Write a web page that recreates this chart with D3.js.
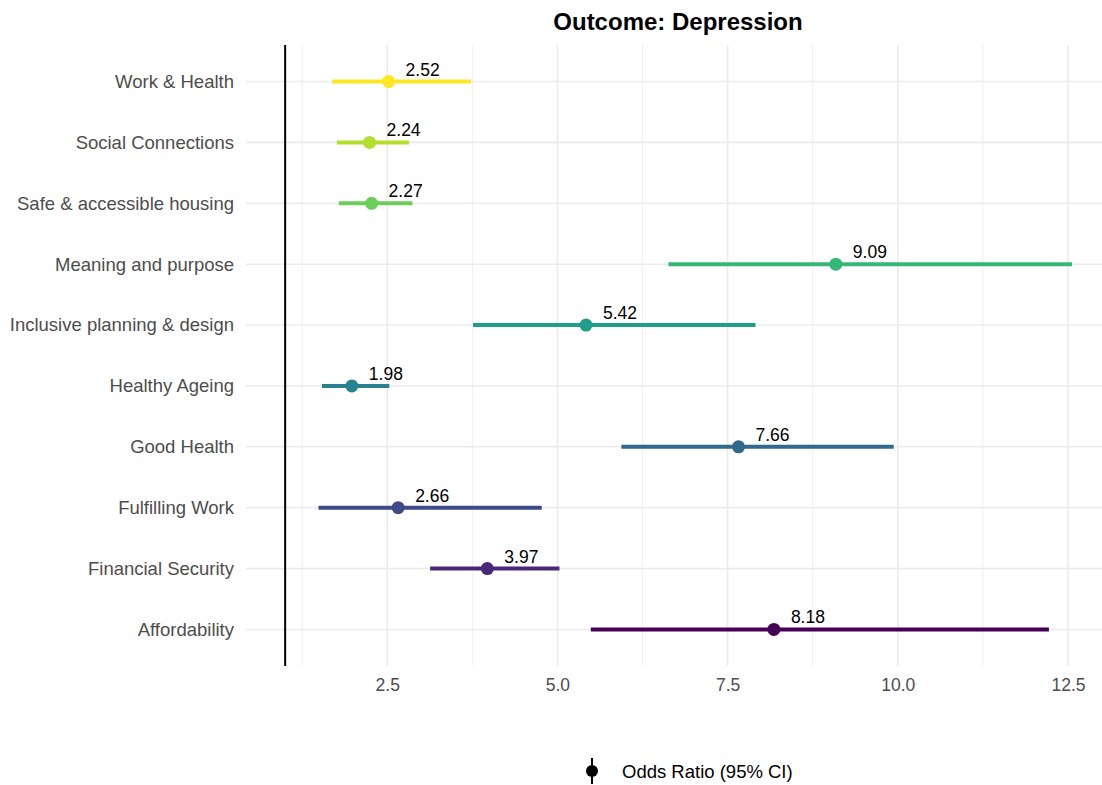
<!DOCTYPE html>
<html>
<head>
<meta charset="utf-8">
<script src="https://cdn.jsdelivr.net/npm/d3@7"></script>
<style>
  body { margin: 0; background: #fff; }
  text { font-family: "Liberation Sans", Arial, Helvetica, sans-serif; }
</style>
</head>
<body>
<script>
// data, bottom row first
var domains = ["Affordability", "Financial Security", "Fulfilling Work", "Good Health", "Healthy Ageing",
  "Inclusive planning & design", "Meaning and purpose", "Safe & accessible housing", "Social Connections", "Work & Health"];
var oddsRatio = [8.18, 3.97, 2.66, 7.66, 1.98, 5.42, 9.09, 2.27, 2.24, 2.52];
var ciLow = [5.49, 3.13, 1.49, 5.94, 1.54, 3.76, 6.63, 1.79, 1.76, 1.69];
var ciHigh = [12.22, 5.03, 4.77, 9.94, 2.53, 7.91, 12.56, 2.87, 2.82, 3.73];
var xTicks = [2.5, 5.0, 7.5, 10.0, 12.5];
var xMinor = [1.25, 3.75, 6.25, 8.75, 11.25];
var colors = ["#440154", "#482878", "#3E4A89", "#31688E", "#26828E", "#1F9E89", "#35B779", "#6DCD59", "#B4DE2C", "#FDE725"];

var w = 1102, h = 785;
var panelLeft = 246, panelRight = 1102, panelTop = 45, panelBottom = 666;

var svg = d3.select("body").append("svg")
  .attr("width", w)
  .attr("height", h);

var x = d3.scaleLinear().domain([0.425, 13.0]).range([panelLeft, panelRight]);
var y = d3.scalePoint().domain(domains).range([panelBottom, panelTop]).padding(0.6);

// grid
svg.append("g").selectAll("line").data(xMinor).enter().append("line")
  .attr("x1", d => x(d)).attr("x2", d => x(d))
  .attr("y1", panelTop).attr("y2", panelBottom)
  .attr("stroke", "#ebebeb").attr("stroke-width", 0.8);
svg.append("g").selectAll("line").data(xTicks).enter().append("line")
  .attr("x1", d => x(d)).attr("x2", d => x(d))
  .attr("y1", panelTop).attr("y2", panelBottom)
  .attr("stroke", "#ebebeb").attr("stroke-width", 1.6);
svg.append("g").selectAll("line").data(domains).enter().append("line")
  .attr("x1", panelLeft).attr("x2", panelRight)
  .attr("y1", d => y(d)).attr("y2", d => y(d))
  .attr("stroke", "#ebebeb").attr("stroke-width", 1.6);

// reference line at OR = 1
svg.append("line")
  .attr("x1", x(1)).attr("x2", x(1))
  .attr("y1", panelTop).attr("y2", panelBottom)
  .attr("stroke", "#000").attr("stroke-width", 2);

// axes
var xAxis = svg.append("g")
  .attr("transform", `translate(0, ${panelBottom})`)
  .call(d3.axisBottom(x).tickValues(xTicks).tickFormat(d3.format(".1f")).tickSize(0).tickPadding(13));
xAxis.select(".domain").remove();
xAxis.selectAll("text").attr("fill", "#4d4d4d").style("font-size", "17.5px");

var yAxis = svg.append("g")
  .attr("transform", `translate(${panelLeft}, 0)`)
  .call(d3.axisLeft(y).tickSize(0).tickPadding(12));
yAxis.select(".domain").remove();
yAxis.selectAll("text").attr("fill", "#4d4d4d").style("font-size", "18.5px");

// CIs
svg.append("g").selectAll("line").data(domains).enter().append("line")
  .attr("x1", (d, i) => x(ciLow[i])).attr("x2", (d, i) => x(ciHigh[i]))
  .attr("y1", d => y(d)).attr("y2", d => y(d))
  .attr("stroke", (d, i) => colors[i]).attr("stroke-width", 4);

svg.append("g").selectAll("circle").data(domains).enter().append("circle")
  .attr("cx", (d, i) => x(oddsRatio[i]))
  .attr("cy", d => y(d))
  .attr("r", 6.5)
  .attr("fill", (d, i) => colors[i]);

svg.append("g").selectAll("text").data(domains).enter().append("text")
  .attr("x", (d, i) => x(oddsRatio[i] + 0.5))
  .attr("y", d => y(d) - 6)
  .attr("text-anchor", "middle")
  .style("font-size", "17.5px")
  .attr("fill", "#000")
  .text((d, i) => oddsRatio[i].toFixed(2));

// title
svg.append("text")
  .attr("x", 678)
  .attr("y", 30)
  .attr("text-anchor", "middle")
  .style("font-size", "24px")
  .style("font-weight", "bold")
  .text("Outcome: Depression");

// legend
var lg = svg.append("g").attr("transform", "translate(592, 771)");
lg.append("line").attr("x1", 0).attr("x2", 0).attr("y1", -13).attr("y2", 13)
  .attr("stroke", "#000").attr("stroke-width", 2);
lg.append("circle").attr("r", 6).attr("fill", "#000");
lg.append("text").attr("x", 30).attr("y", 6.5)
  .style("font-size", "18.5px")
  .attr("fill", "#000")
  .text("Odds Ratio (95% CI)");
</script>
</body>
</html>
